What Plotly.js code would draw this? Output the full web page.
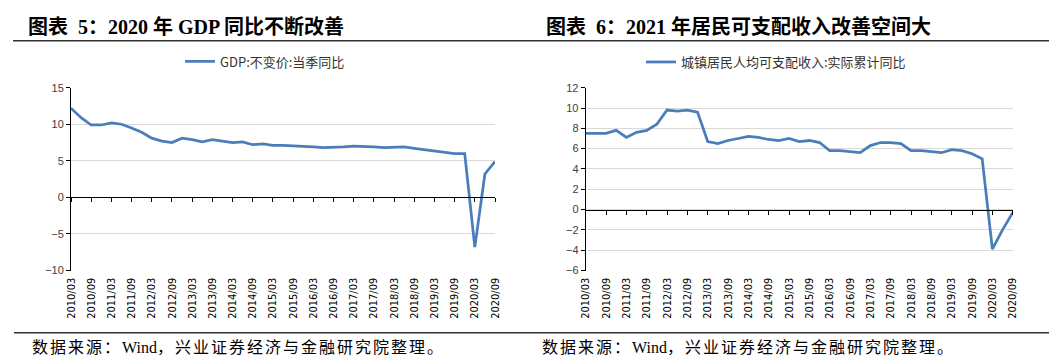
<!DOCTYPE html>
<html>
<head>
<meta charset="utf-8">
<script src="https://cdn.plot.ly/plotly-3.0.1.min.js"></script>
<style>
html,body{margin:0;padding:0;background:#fff;}
#chart{width:1056px;height:362px;}
</style>
</head>
<body>
<div id="chart"></div>
<script>
var quarters = [
"2010/03","2010/06","2010/09","2010/12",
"2011/03","2011/06","2011/09","2011/12",
"2012/03","2012/06","2012/09","2012/12",
"2013/03","2013/06","2013/09","2013/12",
"2014/03","2014/06","2014/09","2014/12",
"2015/03","2015/06","2015/09","2015/12",
"2016/03","2016/06","2016/09","2016/12",
"2017/03","2017/06","2017/09","2017/12",
"2018/03","2018/06","2018/09","2018/12",
"2019/03","2019/06","2019/09","2019/12",
"2020/03","2020/06","2020/09"];

var gdpYoY = [12.2,10.9,9.9,9.9, 10.2,10.0,9.5,8.9, 8.1,7.7,7.5,8.1, 7.9,7.6,7.9,7.7,
  7.5,7.6,7.2,7.3, 7.1,7.1,7.0,6.9, 6.9,6.8,6.8,6.9, 7.0,7.0,6.9,6.8,
  6.9,6.9,6.7,6.5, 6.4,6.2,6.0,6.0, -6.8,3.2,4.9];

var incomeYoY = [7.5,7.5,7.5,7.8, 7.1,7.6,7.8,8.4, 9.8,9.7,9.8,9.6, 6.7,6.5,6.8,7.0,
  7.2,7.1,6.9,6.8, 7.0,6.7,6.8,6.6, 5.8,5.8,5.7,5.6, 6.3,6.6,6.6,6.5,
  5.8,5.8,5.7,5.6, 5.9,5.8,5.5,5.0, -3.9,-2.0,-0.3];

var name1 = "GDP:不变价:当季同比";
var name2 = "城镇居民人均可支配收入:实际累计同比";
var title1 = "图表&nbsp; 5：2020 年 GDP 同比不断改善";
var title2 = "图表&nbsp; 6：2021 年居民可支配收入改善空间大";
var sourceA = "数据来源：", sourceB = "Wind", sourceC = "，兴业证券经济与金融研究院整理。";

var range1 = [-10, 15], range2 = [-6, 12];
var yDom = [1 - 270.5/362, 1 - 87.7/362];
var xDom1 = [71/1056, 495/1056];
var xDom2 = [585.7/1056, 1012.7/1056];
function zeroPos(r){ return yDom[0] + (0 - r[0])/(r[1]-r[0])*(yDom[1]-yDom[0]); }

var lineColor = "#4a7ebb";
var tickFont = {family:"'Liberation Sans Narrow','DejaVu Sans Condensed','Liberation Sans',sans-serif", size:11, color:"#000"};
var yFont = {family:"'Liberation Sans','DejaVu Sans',sans-serif", size:11, color:"#404040"};
var cjkSerif = "'Liberation Serif','Noto Sans CJK SC',serif";

var traces = [
  {x: quarters, y: gdpYoY, type:"scatter", mode:"lines", name: name1,
   line:{color:lineColor, width:2.75}, xaxis:"x", yaxis:"y", legend:"legend"},
  {x: quarters, y: incomeYoY, type:"scatter", mode:"lines", name: name2,
   line:{color:lineColor, width:2.75}, xaxis:"x3", yaxis:"y3", legend:"legend2"},
  {x:[null], y:[null], type:"scatter", mode:"lines", xaxis:"x2", yaxis:"y", showlegend:false, hoverinfo:"skip"},
  {x:[null], y:[null], type:"scatter", mode:"lines", xaxis:"x4", yaxis:"y3", showlegend:false, hoverinfo:"skip"}
];

function catAxis(dom, anchor){
  return {domain: dom, anchor: anchor, type:"category", range:[0, quarters.length-1],
    tickmode:"linear", tick0:0, dtick:2, tickangle:-90, ticks:"", showgrid:false,
    showline:false, zeroline:false, tickfont: tickFont, ticklabelstandoff:4, automargin:false, fixedrange:true};
}
function tickAxis(dom, over, r){
  return {domain: dom, overlaying: over, anchor:"free", position: zeroPos(r), type:"linear",
    range:[0, quarters.length-1], tickmode:"linear", tick0:0, dtick:2, ticks:"outside",
    ticklen:4, tickcolor:"#000", tickwidth:1, showline:true, linecolor:"#000", linewidth:1,
    showticklabels:false, showgrid:false, zeroline:false, automargin:false, fixedrange:true};
}
function valAxis(r, dt, anchor){
  return {domain: yDom, anchor: anchor, range: r, dtick: dt, tick0: 0, showgrid:true,
    gridcolor:"#d9d9d9", gridwidth:1, zeroline:false, showline:true, linecolor:"#000",
    linewidth:1, ticks:"outside", ticklen:4, tickcolor:"#000", tickfont: yFont,
    automargin:false, fixedrange:true};
}

var legendFont = {family:"'Noto Sans CJK SC',sans-serif", size:13, color:"#333"};
var ls = "<span style='letter-spacing:2px'>";
var sourceText = ls + sourceA + "</span>" + sourceB + ls + sourceC + "</span>";

var layout = {
  width:1056, height:362, margin:{l:0,r:0,t:0,b:0},
  paper_bgcolor:"#fff", plot_bgcolor:"rgba(0,0,0,0)", showlegend:true,
  xaxis: catAxis(xDom1, "y"),
  xaxis2: tickAxis(xDom1, "x", range1),
  yaxis: valAxis(range1, 5, "x"),
  xaxis3: catAxis(xDom2, "y3"),
  xaxis4: tickAxis(xDom2, "x3", range2),
  yaxis3: valAxis(range2, 2, "x3"),
  legend: {orientation:"h", x:180/1056, y:1-61.5/362, xanchor:"left", yanchor:"middle",
    font: legendFont, itemwidth:30, bgcolor:"rgba(0,0,0,0)"},
  legend2: {orientation:"h", x:641/1056, y:1-62/362, xanchor:"left", yanchor:"middle",
    font: legendFont, itemwidth:30, bgcolor:"rgba(0,0,0,0)"},
  shapes: [
    {type:"line", xref:"paper", yref:"paper", x0:13/1056, x1:1049/1056, y0:1-40.7/362, y1:1-40.7/362,
     line:{color:"#333", width:1.5}},
    {type:"line", xref:"paper", yref:"paper", x0:14/1056, x1:1049/1056, y0:1-332.7/362, y1:1-332.7/362,
     line:{color:"#333", width:1.5}}
  ],
  annotations: [
    {text:"<b>"+title1+"</b>", xref:"paper", yref:"paper", x:26/1056, y:1-27.5/362,
     xanchor:"left", yanchor:"middle", showarrow:false, font:{family:cjkSerif, size:20, color:"#000"}},
    {text:"<b>"+title2+"</b>", xref:"paper", yref:"paper", x:544/1056, y:1-27.5/362,
     xanchor:"left", yanchor:"middle", showarrow:false, font:{family:cjkSerif, size:20, color:"#000"}},
    {text:sourceText, xref:"paper", yref:"paper", x:30/1056, y:1-347.5/362,
     xanchor:"left", yanchor:"middle", showarrow:false, font:{family:cjkSerif, size:16, color:"#000"}},
    {text:sourceText, xref:"paper", yref:"paper", x:540/1056, y:1-347.5/362,
     xanchor:"left", yanchor:"middle", showarrow:false, font:{family:cjkSerif, size:16, color:"#000"}}
  ]
};

Plotly.newPlot("chart", traces, layout, {displayModeBar:false, staticPlot:true});
</script>
</body>
</html>
